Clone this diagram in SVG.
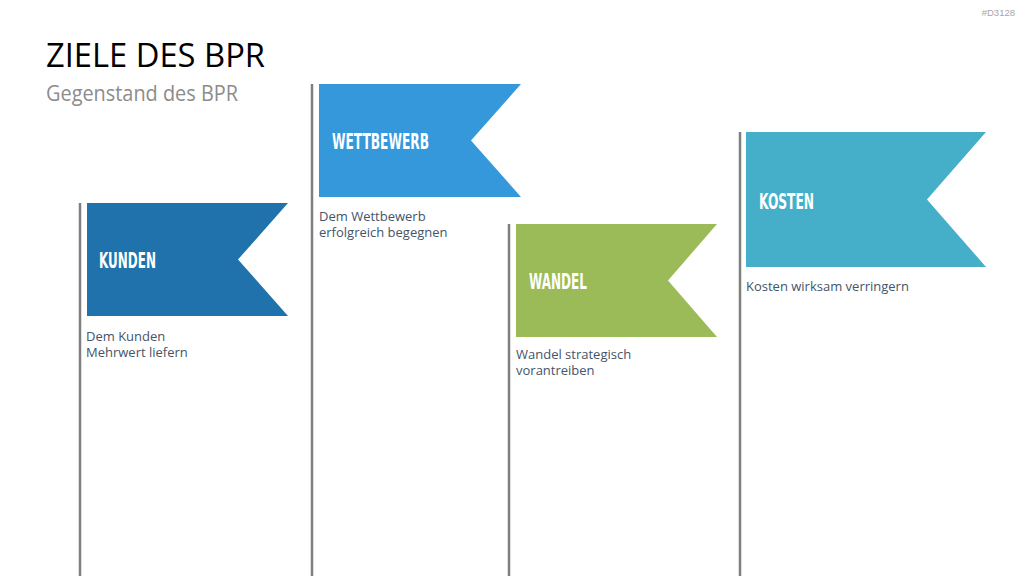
<svg xmlns="http://www.w3.org/2000/svg" width="1024" height="576" viewBox="0 0 1024 576">
<style>
.pole{stroke:#7f7f7f;stroke-width:2.5;fill:none}
.ft{font-family:"DejaVu Sans",sans-serif;font-weight:bold;font-size:21px;fill:#ffffff}
.desc{font-family:"Open Sans","Noto Sans",sans-serif;font-size:13px;fill:#44546a}
</style>
<rect width="1024" height="576" fill="#ffffff"/>
<text x="1015" y="16" text-anchor="end" font-family="Liberation Sans, sans-serif" font-size="9.5" fill="#a6a6a6">#D3128</text>
<text x="46" y="67" font-family="Open Sans, sans-serif" font-size="33" fill="#000000" textLength="219" lengthAdjust="spacingAndGlyphs">ZIELE DES BPR</text>
<text x="46" y="101" font-family="Open Sans, sans-serif" font-size="21" fill="#8c8c8c" textLength="192" lengthAdjust="spacingAndGlyphs">Gegenstand des BPR</text>
<g id="kunden">
<line class="pole" x1="80" y1="203" x2="80" y2="576"/>
<polygon points="87,203 288,203 238,259.5 288,316 87,316" fill="#1f72ab"/>
<text class="ft" x="99" y="268" textLength="57" lengthAdjust="spacingAndGlyphs">KUNDEN</text>
<text class="desc" x="86" y="341">Dem Kunden</text>
<text class="desc" x="86" y="357">Mehrwert liefern</text>
</g>
<g id="wettbewerb">
<line class="pole" x1="312" y1="84" x2="312" y2="576"/>
<polygon points="319,84 521,84 471,140.5 521,197 319,197" fill="#3598db"/>
<text class="ft" x="332" y="148.5" textLength="97" lengthAdjust="spacingAndGlyphs">WETTBEWERB</text>
<text class="desc" x="319" y="221">Dem Wettbewerb</text>
<text class="desc" x="319" y="237">erfolgreich begegnen</text>
</g>
<g id="wandel">
<line class="pole" x1="509" y1="224" x2="509" y2="576"/>
<polygon points="516,224 717,224 668,280.5 717,337 516,337" fill="#9bbb59"/>
<text class="ft" x="529" y="289" textLength="58" lengthAdjust="spacingAndGlyphs">WANDEL</text>
<text class="desc" x="516" y="359">Wandel strategisch</text>
<text class="desc" x="516" y="375">vorantreiben</text>
</g>
<g id="kosten">
<line class="pole" x1="740" y1="132" x2="740" y2="576"/>
<polygon points="746,132 986,132 927,199.5 986,267 746,267" fill="#45afca"/>
<text class="ft" x="759" y="208.5" textLength="55" lengthAdjust="spacingAndGlyphs">KOSTEN</text>
<text class="desc" x="746" y="290.5">Kosten wirksam verringern</text>
</g>
<g id="connectors"/>
</svg>
